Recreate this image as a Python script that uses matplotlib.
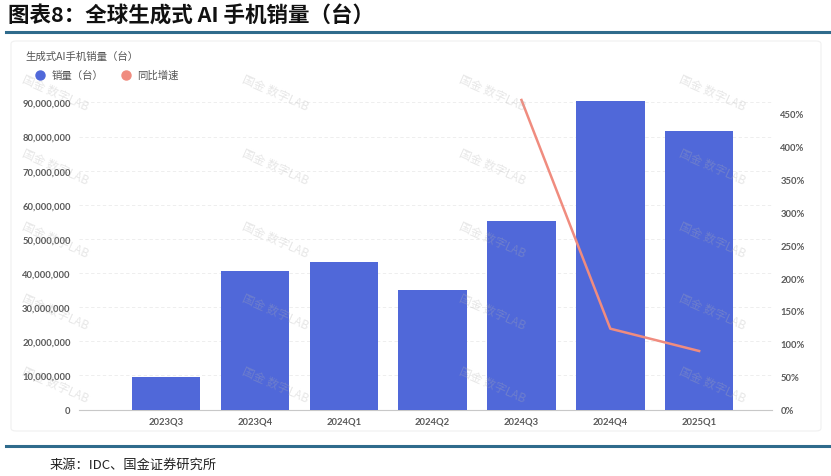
import matplotlib.pyplot as plt
from matplotlib.lines import Line2D
from matplotlib.patches import FancyBboxPatch
from matplotlib.ticker import FuncFormatter

plt.rcParams['font.family'] = ['Lato', 'Noto Sans CJK SC', 'DejaVu Sans']

# 数据
quarters = ['2023Q3', '2023Q4', '2024Q1', '2024Q2', '2024Q3', '2024Q4', '2025Q1']
sales = [9.4e6, 40.7e6, 43.3e6, 35.1e6, 55.2e6, 90.4e6, 81.7e6]
growth_quarters = ['2024Q3', '2024Q4', '2025Q1']
growth = [471, 123, 89]

blue = '#5068D9'
red = '#F08C7F'
grey = '#5a5a5a'

fig = plt.figure(figsize=(8.31, 4.77), dpi=100)
W, H = 831, 477

def fx(px):
    return px / W

def fy(py):
    return 1 - py / H

# 标题和分隔线
fig.text(fx(8), fy(16), '图表8：全球生成式 AI 手机销量（台）', fontsize=15.5, fontweight='bold',
         family=['Noto Sans CJK SC'], va='center', ha='left', color='#111111')
fig.add_artist(Line2D([fx(6), fx(831)], [fy(33), fy(33)], color='#2F6B8C', lw=2.2))
fig.add_artist(Line2D([fx(6), fx(831)], [fy(447), fy(447)], color='#2F6B8C', lw=2.2))
fig.text(fx(50), fy(465), '来源：IDC、国金证券研究所', fontsize=9.5,
         family=['Noto Sans CJK SC'], va='center', ha='left', color='#222222')

# 图表面板
panel = FancyBboxPatch((fx(11), fy(432)), fx(810), fy(42) - fy(432),
                       boxstyle='round,pad=0,rounding_size=0.006',
                       transform=fig.transFigure, facecolor='white',
                       edgecolor='#f0f0f0', lw=0.8, zorder=-5)
fig.add_artist(panel)

fig.text(fx(25), fy(57), '生成式AI手机销量（台）', fontsize=7.5, color='#555555',
         family=['Noto Sans CJK SC'], va='center')

ax = fig.add_axes([fx(79), fy(410.5), fx(772 - 79), fy(100) - fy(410.5)])
ax.patch.set_alpha(0)
x = list(range(len(quarters)))
ax.bar(x, sales, width=0.77, color=blue, zorder=3)
ax.set_xlim(-0.98, 6.82)
ax.set_ylim(0, 91.0e6)
ax.set_yticks([i * 1e7 for i in range(10)])
ax.yaxis.set_major_formatter(FuncFormatter(lambda v, p: f'{int(v):,}'))
ax.set_xticks(x)
ax.set_xticklabels(quarters)
ax.grid(axis='y', color='#ebebeb', linestyle=(0, (4, 3)), lw=0.6, zorder=0)
for s in ['top', 'right', 'left']:
    ax.spines[s].set_visible(False)
ax.spines['bottom'].set_color('#c8c8c8')
ax.tick_params(axis='both', length=0, labelsize=6.8, labelcolor=grey, pad=6)
ax.tick_params(axis='x', pad=5)
for lab in ax.get_xticklabels() + ax.get_yticklabels():
    lab.set_fontweight('bold')

ax2 = ax.twinx()
gx = [quarters.index(q) for q in growth_quarters]
ax2.plot(gx, growth, color=red, lw=1.8, zorder=4, clip_on=False)
ax2.set_ylim(0, 472.5)
ax2.set_yticks(range(0, 451, 50))
ax2.yaxis.set_major_formatter(FuncFormatter(lambda v, p: f'{int(v)}%'))
for s in ['top', 'right', 'left', 'bottom']:
    ax2.spines[s].set_visible(False)
ax2.tick_params(axis='y', length=0, labelsize=6.8, labelcolor=grey, pad=6)
for lab in ax2.get_yticklabels():
    lab.set_fontweight('bold')

# 水印
for cx in [55, 275, 492, 712]:
    for cy in [93, 167, 240, 312, 385]:
        fig.text(fx(cx), fy(cy), '国金 数字LAB', fontsize=8.5, color='#b0b0b0',
                 rotation=-24, ha='center', va='center', zorder=10,
                 family=['Noto Sans CJK SC'], alpha=0.3)

# 图例
handles = [Line2D([], [], marker='o', ls='', color=blue, markersize=6.5),
           Line2D([], [], marker='o', ls='', color=red, markersize=6.5)]
fig.legend(handles, ['销量（台）', '同比增速'], loc='center left',
           bbox_to_anchor=(fx(20), fy(76)), ncol=2, frameon=False,
           prop={'family': 'Noto Sans CJK SC', 'size': 7.5},
           handletextpad=0.1, columnspacing=1.2, labelcolor='#555555')

fig.savefig('out.png', dpi=100)
